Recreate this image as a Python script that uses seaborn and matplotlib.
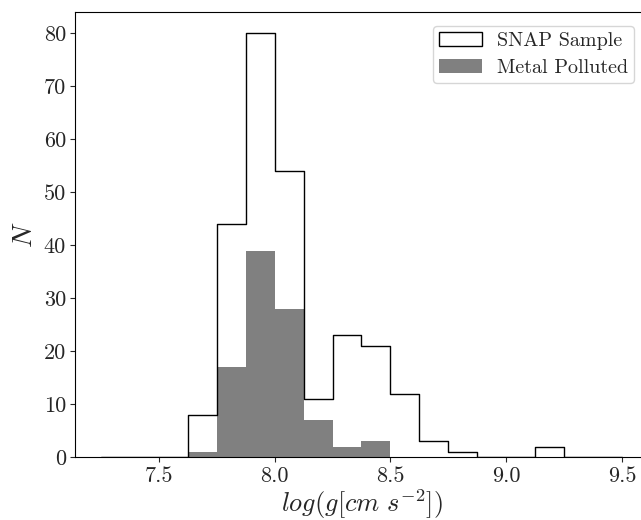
import numpy as np
import pandas as pd
import matplotlib
matplotlib.use("Agg")
import matplotlib.pyplot as plt
from matplotlib.patches import Patch
import seaborn as sns

# bin edges (log g) and counts
bin_edges = [7.25, 7.375, 7.5, 7.625, 7.75, 7.875, 8.0, 8.125, 8.25, 8.375,
             8.5, 8.625, 8.75, 8.875, 9.0, 9.125, 9.25, 9.375, 9.5]
snap_counts = [0, 0, 0, 8, 44, 80, 54, 11, 23, 21, 12, 3, 1, 0, 0, 2, 0, 0]
metal_counts = [0, 0, 0, 1, 17, 39, 28, 7, 2, 3, 0, 0, 0, 0, 0, 0, 0, 0]
xticks = [7.5, 8.0, 8.5, 9.0, 9.5]
yticks = [0, 10, 20, 30, 40, 50, 60, 70, 80]

sns.set_style("ticks")
plt.rcParams["font.family"] = "serif"
plt.rcParams["font.serif"] = ["cmr10", "DejaVu Serif"]
plt.rcParams["mathtext.fontset"] = "cm"
plt.rcParams["axes.unicode_minus"] = False
plt.rcParams["axes.formatter.use_mathtext"] = True

edges = np.array(bin_edges)
centers = (edges[:-1] + edges[1:]) / 2
df = pd.DataFrame({"logg": centers, "snap": snap_counts, "metal": metal_counts})

fig = plt.figure(figsize=(6.41, 5.20), dpi=100)
ax = fig.add_axes([75 / 641, 1 - 457.3 / 520, (648 - 75) / 641, (457.3 - 12) / 520])

sns.histplot(data=df, x="logg", weights="snap", bins=list(bin_edges), element="step",
             fill=False, color="black", linewidth=1.0, ax=ax)
sns.histplot(data=df, x="logg", weights="metal", bins=list(bin_edges), element="step",
             fill=True, color="gray", alpha=1.0, linewidth=0, ax=ax)

ax.set_xlim(7.1375, 9.6125)
ax.set_ylim(0, 84)
ax.set_xticks(xticks)
ax.set_yticks(yticks)
ax.set_xticklabels([f"{v:.1f}" for v in xticks])
ax.set_yticklabels([str(v) for v in yticks])
ax.tick_params(labelsize=16, direction="out", length=3.5, width=0.8, pad=3)
for s in ax.spines.values():
    s.set_visible(True)
    s.set_linewidth(0.8)
    s.set_color("black")

ax.set_xlabel(r"$log(g[cm\ s^{-2}])$", fontsize=19, labelpad=1)
ax.set_ylabel(r"$N$", fontsize=20, labelpad=4)

handles = [Patch(facecolor="white", edgecolor="black", linewidth=1.0),
           Patch(facecolor="gray", edgecolor="none")]
ax.legend(handles, ["SNAP Sample", "Metal Polluted"], loc="upper right",
          fontsize=14.5, frameon=True, handlelength=2.1, handletextpad=0.75,
          borderpad=0.3, labelspacing=0.45,
          bbox_to_anchor=(1.0, 1.0), borderaxespad=0.7)

fig.savefig("out.png", dpi=100)
